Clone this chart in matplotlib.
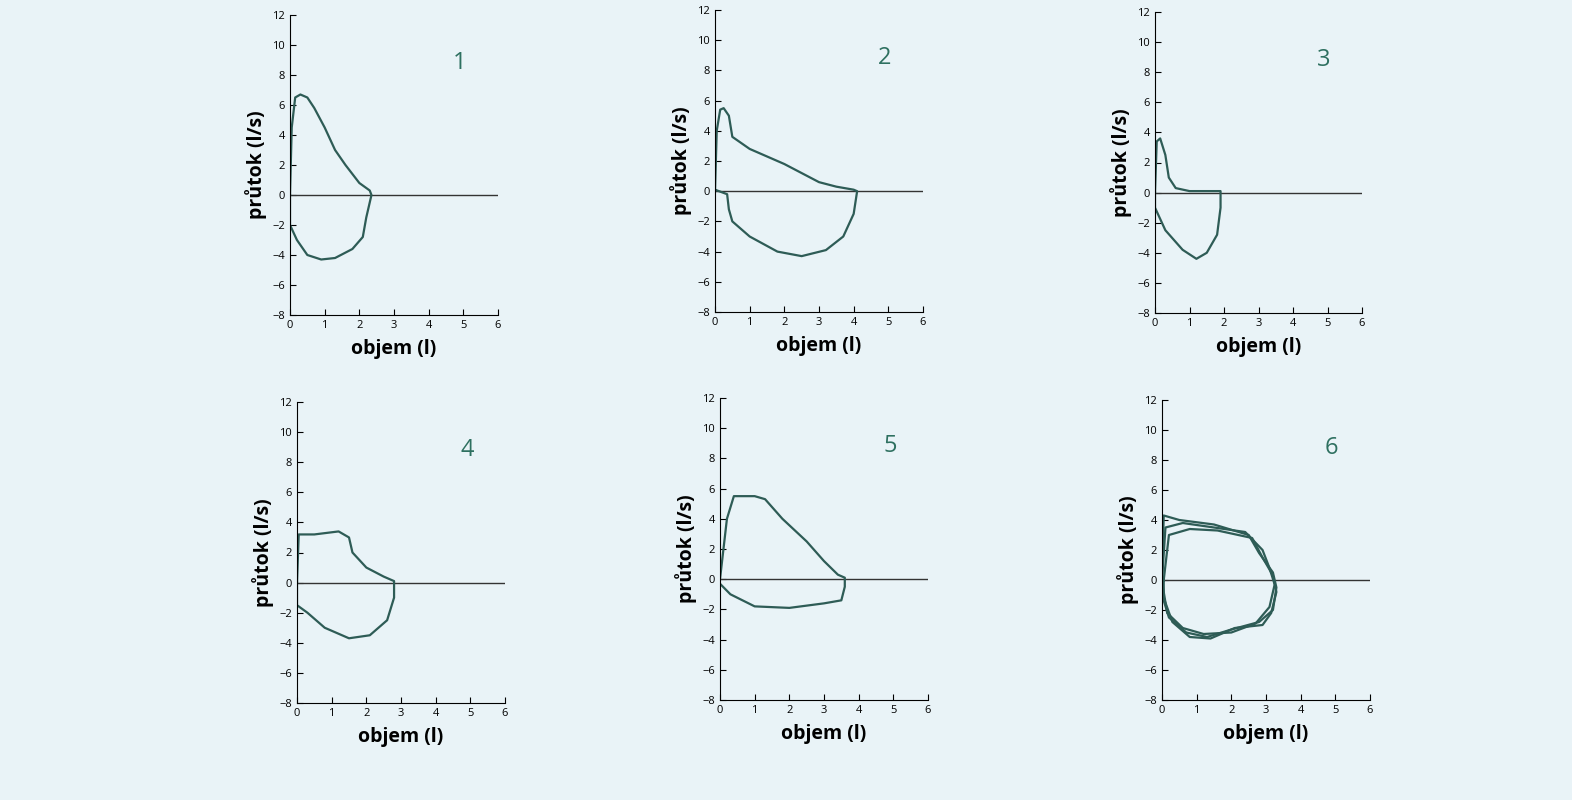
import matplotlib.pyplot as plt

plt.rcParams['font.family'] = ['Open Sans', 'DejaVu Sans']

labels = ["1", "2", "3", "4", "5", "6"]
x1 = [0, 0.05, 0.15, 0.3, 0.5, 0.7, 1.0, 1.3, 1.6, 2.0, 2.3, 2.35, 2.3, 2.2, 2.1, 1.8, 1.3, 0.9, 0.5, 0.2, 0, 0]
y1 = [0, 4.5, 6.5, 6.7, 6.5, 5.8, 4.5, 3.0, 2.0, 0.8, 0.3, 0, -0.5, -1.5, -2.8, -3.6, -4.2, -4.3, -4.0, -3.0, -2.0, 0]
x2 = [0, 0.05, 0.15, 0.25, 0.4, 0.5, 1.0, 1.5, 2.0, 2.5, 3.0, 3.5, 4.0, 4.1, 4.0, 3.7, 3.2, 2.5, 1.8, 1.0, 0.5, 0.4, 0.35, 0]
y2 = [0, 4.0, 5.4, 5.5, 5.0, 3.6, 2.8, 2.3, 1.8, 1.2, 0.6, 0.3, 0.1, 0, -1.5, -3.0, -3.9, -4.3, -4.0, -3.0, -2.0, -1.2, -0.2, 0.1]
x3 = [0, 0.05, 0.15, 0.3, 0.4, 0.6, 1.0, 1.9, 1.9, 1.8, 1.5, 1.2, 0.8, 0.3, 0, 0]
y3 = [0, 3.4, 3.6, 2.5, 1.0, 0.3, 0.1, 0.1, -1.0, -2.8, -4.0, -4.4, -3.8, -2.5, -1.0, 0]
x4 = [0, 0.05, 0.5, 1.2, 1.5, 1.6, 2.0, 2.5, 2.8, 2.8, 2.6, 2.1, 1.5, 0.8, 0.3, 0, 0]
y4 = [0, 3.2, 3.2, 3.4, 3.0, 2.0, 1.0, 0.4, 0.1, -1.0, -2.5, -3.5, -3.7, -3.0, -2.0, -1.5, 0]
x5 = [0, 0.2, 0.4, 1.0, 1.3, 1.8, 2.5, 3.0, 3.4, 3.6, 3.6, 3.5, 3.0, 2.0, 1.0, 0.3, 0]
y5 = [0, 4.0, 5.5, 5.5, 5.3, 4.0, 2.5, 1.2, 0.3, 0.1, -0.5, -1.4, -1.6, -1.9, -1.8, -1.0, -0.3]
x6a = [0, 0.05, 0.5, 1.5, 2.5, 2.8, 3.2, 3.3, 3.2, 2.8, 2.0, 1.3, 0.7, 0.2, 0, 0]
y6a = [0, 4.3, 4.0, 3.7, 3.0, 1.8, 0.5, -0.5, -2.0, -2.8, -3.3, -3.8, -3.5, -2.5, -1.0, 0]
x6b = [0, 0.1, 0.6, 1.5, 2.4, 2.9, 3.1, 3.25, 3.1, 2.7, 2.0, 1.2, 0.6, 0.15, 0.05, 0]
y6b = [0, 3.5, 3.8, 3.5, 3.2, 2.0, 0.8, -0.3, -1.8, -2.9, -3.5, -3.6, -3.2, -2.2, -0.8, 0]
x6c = [0.05, 0.2, 0.8, 1.6, 2.6, 2.9, 3.2, 3.3, 3.15, 2.9, 2.1, 1.4, 0.8, 0.3, 0.05, 0.05]
y6c = [0, 3.0, 3.4, 3.3, 2.8, 1.5, 0.3, -0.8, -2.2, -3.0, -3.2, -3.9, -3.8, -2.8, -1.2, 0]
loops = [[(x1, y1)], [(x2, y2)], [(x3, y3)], [(x4, y4)], [(x5, y5)], [(x6a, y6a), (x6b, y6b), (x6c, y6c)]]

W, H = 1572, 800
boxes = [(290, 15, 498, 315), (715, 10, 923, 312), (1155, 12, 1362, 313),
         (297, 402, 505, 703), (720, 398, 928, 700), (1162, 400, 1370, 700)]
fig = plt.figure(figsize=(W/100, H/100), dpi=100)
fig.patch.set_facecolor('#e9f3f7')
col = '#2e5c56'
for lab, lp, (l, t, r, b) in zip(labels, loops, boxes):
    ax = fig.add_axes([l/W, 1-b/H, (r-l)/W, (b-t)/H])
    ax.set_facecolor('none')
    ax.set_xlim(0, 6); ax.set_ylim(-8, 12)
    ax.set_xticks(range(0, 7)); ax.set_yticks(range(-8, 13, 2))
    for s in ['top', 'right']:
        ax.spines[s].set_visible(False)
    ax.tick_params(direction='in', labelsize=8, length=4)
    ax.axhline(0, color='#333', lw=1)
    for xs, ys in lp:
        ax.plot(xs, ys, color=col, lw=1.6)
    ax.text(4.9, 8.8, lab, color='#2e7060', fontsize=17, ha='center', va='center')
    ax.set_ylabel('průtok (l/s)', fontsize=14, fontweight='bold', labelpad=4)
    ax.set_xlabel('objem (l)', fontsize=14, fontweight='bold', labelpad=6)
fig.savefig('out.png', dpi=100, facecolor=fig.get_facecolor())
